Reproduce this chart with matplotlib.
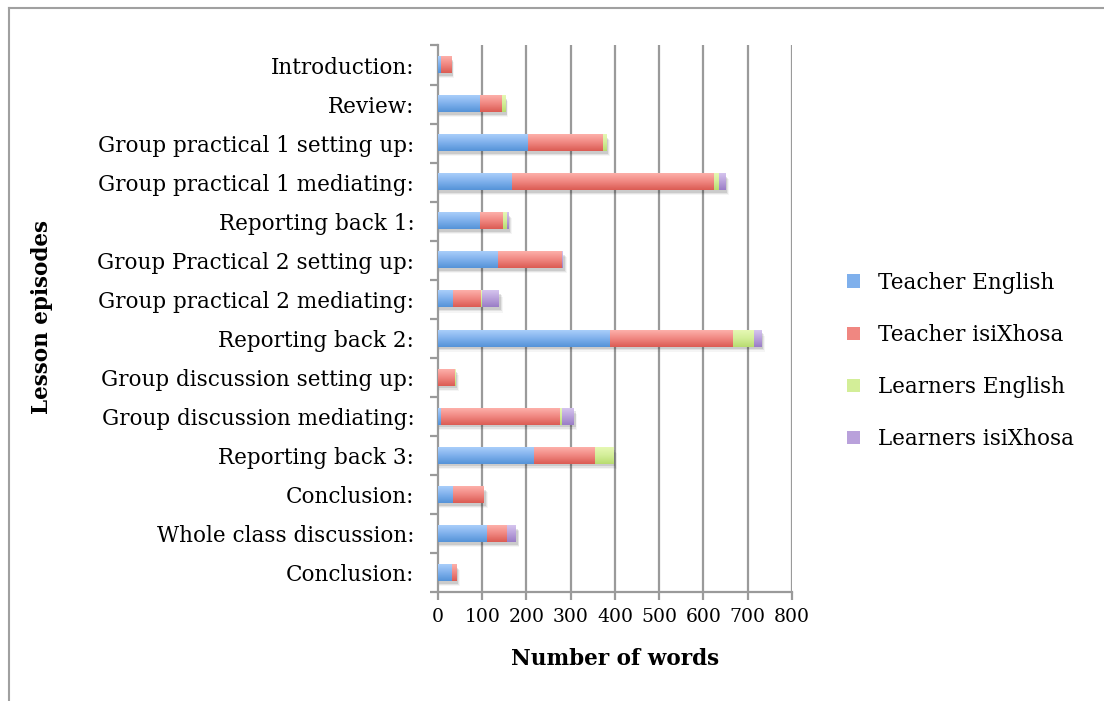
import numpy as np
import matplotlib
matplotlib.use("Agg")
import matplotlib.pyplot as plt
from matplotlib.colors import LinearSegmentedColormap
from matplotlib.lines import Line2D

plt.rcParams['font.family'] = ['DejaVu Serif']

# Lesson episodes, top to bottom
episodes = ['Introduction:', 'Review:', 'Group practical 1 setting up:',
            'Group practical 1 mediating:', 'Reporting back 1:',
            'Group Practical 2 setting up:', 'Group practical 2 mediating:',
            'Reporting back 2:', 'Group discussion setting up:',
            'Group discussion mediating:', 'Reporting back 3:', 'Conclusion:',
            'Whole class discussion:', 'Conclusion:']

teacher_english = [6, 94, 203, 167, 94, 135, 35, 389, 0, 8, 216, 35, 111, 31]
teacher_xhosa = [23, 50, 170, 457, 52, 146, 63, 278, 38, 267, 139, 70, 45, 11]
learners_english = [0, 7, 8, 11, 9, 0, 2, 48, 2, 5, 42, 0, 0, 0]
learners_xhosa = [0, 0, 0, 14, 4, 2, 38, 16, 0, 27, 0, 0, 20, 0]

series = [teacher_english, teacher_xhosa, learners_english, learners_xhosa]
names = ['Teacher English', 'Teacher isiXhosa', 'Learners English', 'Learners isiXhosa']
# (top, middle, bottom) shades for each series
shades = [('#a9cefa', '#7fb0ec', '#5593d8'),
          ('#fdb0aa', '#f08781', '#db5b53'),
          ('#e6f8b4', '#d3ee98', '#b8dc70'),
          ('#d5c4ee', '#b9a1db', '#9a7dc6')]

fig = plt.figure(figsize=(11.04, 7.01), dpi=100)
ax = fig.add_axes([0.3967, 0.1548, 0.3207, 0.7803])

y = np.arange(len(episodes))
h = 0.41

# soft drop shadow behind each stacked bar
total = np.sum(series, axis=0)
for k, a in enumerate([0.10, 0.07, 0.04]):
    ax.barh(y + 0.07 + 0.03 * k, total + 3 + 2 * k, height=h, left=1,
            color='black', alpha=a, linewidth=0, zorder=2)

left = np.zeros(len(episodes))
handles = []
for vals, name, (c1, c2, c3) in zip(series, names, shades):
    vals = np.array(vals, dtype=float)
    bars = ax.barh(y, vals, height=h, left=left, color=c2, linewidth=0,
                   zorder=3, label=name)
    cmap = LinearSegmentedColormap.from_list(name, [c1, c2, c3])
    grad = np.linspace(0, 1, 64).reshape(-1, 1)
    for rect in bars:
        x0, y0 = rect.get_x(), rect.get_y()
        w, hh = rect.get_width(), rect.get_height()
        if w <= 0:
            continue
        ax.imshow(grad, cmap=cmap, extent=[x0, x0 + w, y0 + hh, y0],
                  aspect='auto', zorder=4, interpolation='bilinear')
    handles.append(bars)
    left += vals

ax.set_xlim(0, 800)
ax.set_ylim(len(episodes) - 0.5, -0.5)
ax.set_aspect('auto')

# vertical gridlines
for gx in range(100, 801, 100):
    ax.axvline(gx, color='#9a9a9a', lw=1.6, zorder=1)

for s in ['top', 'right']:
    ax.spines[s].set_visible(False)
for s in ['left', 'bottom']:
    ax.spines[s].set_color('#9a9a9a')
    ax.spines[s].set_linewidth(1.6)

ax.set_xticks(range(0, 801, 100))
ax.tick_params(axis='x', length=6, width=1.6, color='#9a9a9a',
               labelsize=13.5, pad=5)
ax.set_yticks(y)
ax.set_yticklabels(episodes, fontsize=15.5)
ax.set_yticks(np.arange(-0.5, len(episodes), 1), minor=True)
ax.tick_params(axis='y', which='major', length=0, pad=17)
ax.tick_params(axis='y', which='minor', length=6, width=1.6, color='#9a9a9a')

ax.set_xlabel('Number of words', fontsize=15.5, fontweight='bold', labelpad=16)
fig.text(0.038, 0.548, 'Lesson episodes', rotation=90, fontsize=15.5,
         fontweight='bold', ha='center', va='center')

leg = fig.legend(handles, names, loc='center left',
                 bbox_to_anchor=(0.750, 0.485), frameon=False, fontsize=15.5,
                 handlelength=0.6, handleheight=0.6, handletextpad=0.8,
                 labelspacing=1.4)

# outer frame
fig.add_artist(Line2D([0.008, 1.0], [0.988, 0.988], color='#a0a0a0', lw=1.5,
                      transform=fig.transFigure))
fig.add_artist(Line2D([0.008, 0.008], [0.0, 0.988], color='#a0a0a0', lw=1.5,
                      transform=fig.transFigure))

fig.savefig('out.png', dpi=100)
